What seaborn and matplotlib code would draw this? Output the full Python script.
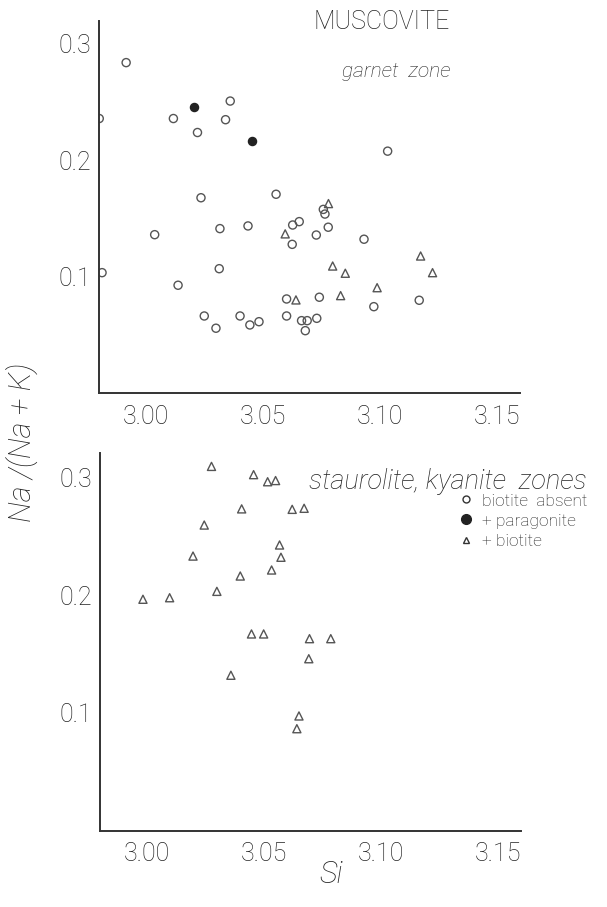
import matplotlib
matplotlib.use("Agg")
import matplotlib.pyplot as plt
from matplotlib.lines import Line2D
import seaborn as sns
import pandas as pd

sns.set_theme(style="white")
plt.rcParams['font.family'] = ['Roboto', 'DejaVu Sans']
plt.rcParams['font.weight'] = 'light'

# ---- data (Si, Na/(Na+K)) ----
garnet_absent_si = [2.9915, 2.980, 3.036, 3.0117, 3.034, 3.022, 3.0235, 3.0556, 3.1033,
                    3.0758, 3.0765, 3.0627, 3.0655, 3.0625, 3.0728, 3.0779, 3.0932,
                    3.1168, 3.0974, 3.0741, 3.0601, 3.0037, 3.0316, 3.0436, 2.9812,
                    3.0313, 3.0137, 3.0249, 3.0299, 3.0402, 3.0444, 3.0483, 3.0601,
                    3.0665, 3.0689, 3.0681, 3.0730]
garnet_absent_na = [0.284, 0.236, 0.251, 0.236, 0.235, 0.224, 0.168, 0.171, 0.208,
                    0.158, 0.154, 0.1446, 0.1475, 0.128, 0.136, 0.1427, 0.1324,
                    0.080, 0.0745, 0.0826, 0.0811, 0.1363, 0.1415, 0.1438, 0.1037,
                    0.1071, 0.0929, 0.0665, 0.056, 0.0665, 0.0588, 0.0616, 0.0665,
                    0.0625, 0.0625, 0.0539, 0.0645]
garnet_parag_si = [3.0205, 3.0453]
garnet_parag_na = [0.2457, 0.2165]
garnet_biot_si = [3.078, 3.0595, 3.1174, 3.1225, 3.0798, 3.0852, 3.0988, 3.0832, 3.0641]
garnet_biot_na = [0.163, 0.137, 0.118, 0.1037, 0.1094, 0.1032, 0.0908, 0.084, 0.0803]

stauro_biot_si = [3.0276, 3.0456, 3.0516, 3.0550, 3.0405, 3.0621, 3.0672, 3.0245, 3.0197,
                  3.0567, 3.0573, 3.0533, 3.0399, 3.0299, 2.9983, 3.0097, 3.0447, 3.0499,
                  3.0695, 3.0786, 3.0692, 3.0359, 3.0650, 3.0641]
stauro_biot_na = [0.309, 0.302, 0.296, 0.297, 0.273, 0.2726, 0.2735, 0.2593, 0.233,
                  0.2424, 0.232, 0.2212, 0.2161, 0.2031, 0.1964, 0.1977, 0.167, 0.167,
                  0.163, 0.163, 0.146, 0.132, 0.0975, 0.0867]

x_ticks = [3.00, 3.05, 3.10, 3.15]
x_ticklabels = ["3.00", "3.05", "3.10", "3.15"]
y_ticks = [0.1, 0.2, 0.3]
y_ticklabels = ["0.1", "0.2", "0.3"]

ink = "#222222"
line_ink = "#333333"
marker_edge = "#555555"

fig = plt.figure(figsize=(6.07, 9.07), dpi=100)
ax1 = fig.add_axes([0.1635, 0.5662, 0.6936, 0.4110])
ax2 = fig.add_axes([0.1650, 0.0838, 0.6936, 0.4163])

df_abs = pd.DataFrame({"Si": garnet_absent_si, "r": garnet_absent_na})
df_par = pd.DataFrame({"Si": garnet_parag_si, "r": garnet_parag_na})
df_bio = pd.DataFrame({"Si": garnet_biot_si, "r": garnet_biot_na})
df_st = pd.DataFrame({"Si": stauro_biot_si, "r": stauro_biot_na})

ms = 34
sns.scatterplot(data=df_abs, x="Si", y="r", ax=ax1, marker="o", s=ms,
                facecolors="none", edgecolor=marker_edge, linewidth=1.0)
sns.scatterplot(data=df_par, x="Si", y="r", ax=ax1, marker="o", s=ms,
                color="#222222", edgecolor="#222222", linewidth=1.0)
sns.scatterplot(data=df_bio, x="Si", y="r", ax=ax1, marker="^", s=ms,
                facecolors="none", edgecolor=marker_edge, linewidth=1.0)
sns.scatterplot(data=df_st, x="Si", y="r", ax=ax2, marker="^", s=ms,
                facecolors="none", edgecolor=marker_edge, linewidth=1.0)

for ax in (ax1, ax2):
    ax.set_xlim(2.98, 3.16)
    ax.set_ylim(0, 0.32)
    ax.set_xticks(x_ticks)
    ax.set_xticklabels(x_ticklabels)
    ax.set_yticks(y_ticks)
    ax.set_yticklabels(y_ticklabels)
    ax.set_xlabel("")
    ax.set_ylabel("")
    for s in ("top", "right"):
        ax.spines[s].set_visible(False)
    for s in ("left", "bottom"):
        ax.spines[s].set_color(line_ink)
        ax.spines[s].set_linewidth(1.4)
    ax.tick_params(axis="both", direction="in", length=16, width=1.4, color=line_ink,
                   labelsize=18, labelcolor=ink)
    ax.tick_params(axis="x", pad=8)
    ax.tick_params(axis="y", pad=6)
    ax.set_facecolor("white")
    for lab in ax.get_xticklabels() + ax.get_yticklabels():
        lab.set_fontweight("light")

fig.text(0.036, 0.512, "Na /(Na + K)", rotation=90, ha="center", va="center",
         fontsize=22, style="italic", color=ink, fontweight="light")
fig.text(0.545, 0.036, "Si", ha="center", va="center", fontsize=22,
         style="italic", color=ink, fontweight="light")
fig.text(0.628, 0.976, "MUSCOVITE", ha="center", va="center", fontsize=18,
         color=ink, fontweight="light")
fig.text(0.652, 0.921, "garnet  zone", ha="center", va="center", fontsize=15,
         style="italic", color=ink, fontweight="light")
fig.text(0.737, 0.469, "staurolite, kyanite  zones", ha="center", va="center",
         fontsize=19.5, style="italic", color=ink, fontweight="light")

handles = [
    Line2D([], [], linestyle="none", marker="o", markersize=5, markerfacecolor="none",
           markeredgecolor=line_ink, markeredgewidth=1.0),
    Line2D([], [], linestyle="none", marker="o", markersize=7, markerfacecolor="#222222",
           markeredgecolor="#222222"),
    Line2D([], [], linestyle="none", marker="^", markersize=5, markerfacecolor="none",
           markeredgecolor=line_ink, markeredgewidth=1.0),
]
labels = ["biotite  absent", "+ paragonite", "+ biotite"]
leg = fig.legend(handles, labels, loc="upper left", bbox_to_anchor=(0.757, 0.456),
                 frameon=False, fontsize=12.5, handlelength=0.8, handletextpad=0.5,
                 labelspacing=0.28, borderaxespad=0, borderpad=0)
for t in leg.get_texts():
    t.set_color(ink)
    t.set_fontweight("light")

fig.savefig("out.png", dpi=100, facecolor="white")
